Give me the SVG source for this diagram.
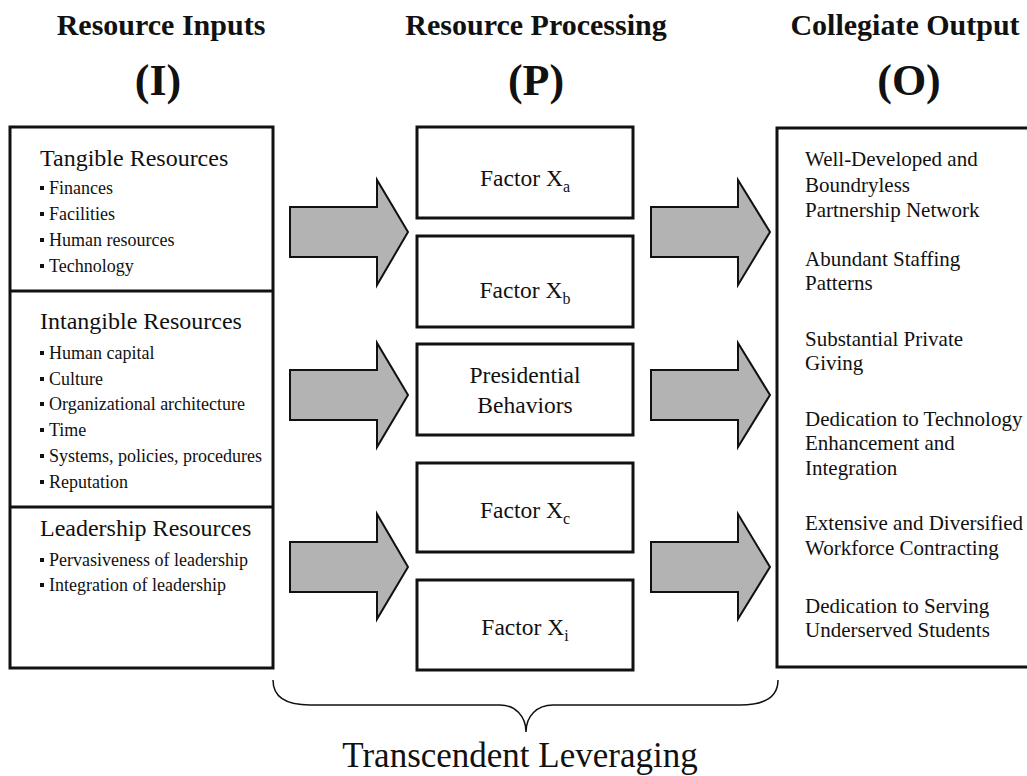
<svg xmlns="http://www.w3.org/2000/svg" width="1027" height="776" viewBox="0 0 1027 776">
<defs>
<style>
.hdr{font-family:"Liberation Serif","Times New Roman",serif;font-weight:bold;font-size:30px;fill:#111;text-anchor:middle}
.par{font-family:"Liberation Serif","Times New Roman",serif;font-weight:bold;font-size:44px;fill:#111;text-anchor:middle}
.box{fill:#fff;stroke:#111;stroke-width:3}
.ttl{font-family:"Liberation Serif","Times New Roman",serif;font-size:24px;fill:#111}
.bul{font-family:"Liberation Serif","Times New Roman",serif;font-size:18px;fill:#111}
.mid{font-family:"Liberation Serif","Times New Roman",serif;font-size:23.5px;fill:#111;text-anchor:middle}
.sub{font-size:16px}
.out{font-family:"Liberation Serif","Times New Roman",serif;font-size:21px;fill:#111}
.arrow{fill:#b3b3b3;stroke:#111;stroke-width:2;stroke-linejoin:miter}
.brace{fill:none;stroke:#111;stroke-width:1.5}
.cap{font-family:"Liberation Serif","Times New Roman",serif;font-size:35px;fill:#111;text-anchor:middle}
.dot{fill:#111}
</style>
</defs>
<rect width="1027" height="776" fill="#fff"/>

<g id="headers">
<text class="hdr" x="161" y="35">Resource Inputs</text>
<text class="hdr" x="536" y="35">Resource Processing</text>
<text class="hdr" x="905" y="35">Collegiate Output</text>
<text class="par" x="158" y="95">(I)</text>
<text class="par" x="536" y="95">(P)</text>
<text class="par" x="909" y="95">(O)</text>
</g>

<g id="inputs">
<rect class="box" x="10" y="127" width="263" height="541"/>
<line x1="10" y1="291" x2="273" y2="291" stroke="#111" stroke-width="3"/>
<line x1="10" y1="507" x2="273" y2="507" stroke="#111" stroke-width="3"/>
<g id="tangible">
<text class="ttl" x="40" y="166">Tangible Resources</text>
<rect class="dot" x="40" y="186" width="4" height="4"/><text class="bul" x="49" y="194">Finances</text>
<rect class="dot" x="40" y="212" width="4" height="4"/><text class="bul" x="49" y="220">Facilities</text>
<rect class="dot" x="40" y="238" width="4" height="4"/><text class="bul" x="49" y="246">Human resources</text>
<rect class="dot" x="40" y="264" width="4" height="4"/><text class="bul" x="49" y="272">Technology</text>
</g>
<g id="intangible">
<text class="ttl" x="40" y="329">Intangible Resources</text>
<rect class="dot" x="40" y="351" width="4" height="4"/><text class="bul" x="49" y="359">Human capital</text>
<rect class="dot" x="40" y="377" width="4" height="4"/><text class="bul" x="49" y="385">Culture</text>
<rect class="dot" x="40" y="402" width="4" height="4"/><text class="bul" x="49" y="410">Organizational architecture</text>
<rect class="dot" x="40" y="428" width="4" height="4"/><text class="bul" x="49" y="436">Time</text>
<rect class="dot" x="40" y="454" width="4" height="4"/><text class="bul" x="49" y="462">Systems, policies, procedures</text>
<rect class="dot" x="40" y="480" width="4" height="4"/><text class="bul" x="49" y="488">Reputation</text>
</g>
<g id="leadership">
<text class="ttl" x="40" y="536">Leadership Resources</text>
<rect class="dot" x="40" y="558" width="4" height="4"/><text class="bul" x="49" y="566">Pervasiveness of leadership</text>
<rect class="dot" x="40" y="583" width="4" height="4"/><text class="bul" x="49" y="591">Integration of leadership</text>
</g>
</g>

<g id="factor-a">
<rect class="box" x="417" y="127" width="216" height="91"/>
<text class="mid" x="525" y="186">Factor X<tspan class="sub" dy="6">a</tspan></text>
</g>
<g id="factor-b">
<rect class="box" x="417" y="236" width="216" height="91"/>
<text class="mid" x="525" y="298">Factor X<tspan class="sub" dy="6">b</tspan></text>
</g>
<g id="presidential">
<rect class="box" x="417" y="344" width="216" height="91"/>
<text class="mid" x="525" y="383">Presidential</text>
<text class="mid" x="525" y="413">Behaviors</text>
</g>
<g id="factor-c">
<rect class="box" x="417" y="463" width="216" height="89"/>
<text class="mid" x="525" y="518">Factor X<tspan class="sub" dy="6">c</tspan></text>
</g>
<g id="factor-i">
<rect class="box" x="417" y="580" width="216" height="90"/>
<text class="mid" x="525" y="635">Factor X<tspan class="sub" dy="6">i</tspan></text>
</g>

<g id="outputs">
<rect class="box" x="777" y="128" width="260" height="539"/>
<text class="out" x="805" y="166">Well-Developed and</text>
<text class="out" x="805" y="192">Boundryless</text>
<text class="out" x="805" y="217">Partnership Network</text>
<text class="out" x="805" y="266">Abundant Staffing</text>
<text class="out" x="805" y="290">Patterns</text>
<text class="out" x="805" y="346">Substantial Private</text>
<text class="out" x="805" y="370">Giving</text>
<text class="out" x="805" y="426">Dedication to Technology</text>
<text class="out" x="805" y="450">Enhancement and</text>
<text class="out" x="805" y="475">Integration</text>
<text class="out" x="805" y="530">Extensive and Diversified</text>
<text class="out" x="805" y="555">Workforce Contracting</text>
<text class="out" x="805" y="613">Dedication to Serving</text>
<text class="out" x="805" y="637">Underserved Students</text>
</g>

<g id="connectors">
<polygon class="arrow" points="290,207 377,207 377,180 408,232 377,285 377,257 290,257"/>
<polygon class="arrow" points="290,370 377,370 377,343 408,395 377,447 377,420 290,420"/>
<polygon class="arrow" points="290,542 377,542 377,514 408,567 377,619 377,592 290,592"/>
<polygon class="arrow" points="651,207 738,207 738,180 770,232 738,285 738,257 651,257"/>
<polygon class="arrow" points="651,370 738,370 738,343 770,395 738,447 738,420 651,420"/>
<polygon class="arrow" points="651,542 738,542 738,514 770,567 738,619 738,592 651,592"/>
</g>

<g id="leveraging">
<path class="brace" d="M273,680 C273,699 288,705 310,705 L500,705 C515,705 526,716 526,732 C526,716 537,705 553,705 L740,705 C762,705 778,699 778,680"/>
<text class="cap" x="520" y="767">Transcendent Leveraging</text>
</g>
</svg>
